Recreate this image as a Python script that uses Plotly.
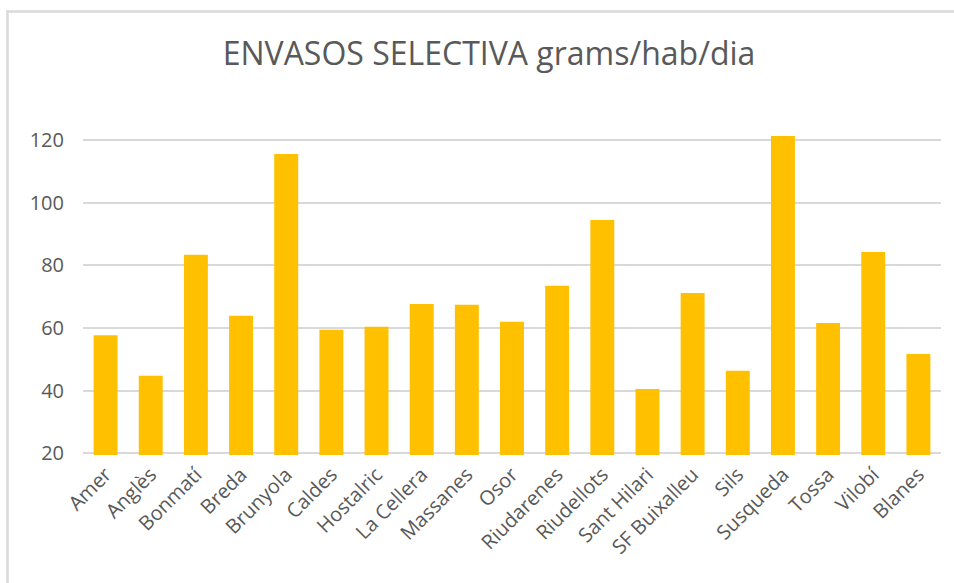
import plotly.graph_objects as go

categories = ["Amer", "Anglès", "Bonmatí", "Breda", "Brunyola", "Caldes", "Hostalric",
              "La Cellera", "Massanes", "Osor", "Riudarenes", "Riudellots", "Sant Hilari",
              "SF Buixalleu", "Sils", "Susqueda", "Tossa", "Vilobí", "Blanes"]
values = [57.7, 44.7, 83.4, 63.9, 115.6, 59.4, 60.4, 67.7, 67.4, 62.0, 73.5, 94.5,
          40.5, 71.2, 46.3, 121.4, 61.6, 84.3, 51.7]
y_ticks = [20, 40, 60, 80, 100, 120]

W, H = 954, 583
L, R, T, B = 83, 13, 109, 128
FONT = "Open Sans"
TXT = "#595959"
GRID = "#D9D9D9"

fig = go.Figure(go.Bar(x=categories, y=values, marker_color="#FFC000",
                       marker_line_width=0))

pw = W - L - R
ph = H - T - B
def px_x(p):
    return (p - L) / pw
def px_y(p):
    return (H - B - p) / ph

fig.update_layout(
    width=W, height=H,
    margin=dict(l=L, r=R, t=T, b=B, pad=0),
    paper_bgcolor="white", plot_bgcolor="white",
    bargap=0.47,
    showlegend=False,
    title=dict(text="ENVASOS SELECTIVA grams/hab/dia", x=(489) / W, xanchor="center",
               y=1 - 54 / H, yanchor="middle", yref="container",
               font=dict(family=FONT, size=32, color=TXT)),
    xaxis=dict(tickangle=-45, tickfont=dict(family=FONT, size=20, color=TXT),
               showgrid=False, showline=False, ticks="", automargin=False,
               ticklabelstandoff=3),
    yaxis=dict(range=[19.4, 130], tickvals=y_ticks, showgrid=True, gridcolor=GRID,
               gridwidth=1.5, zeroline=False, showline=False, ticks="",
               ticklabelstandoff=18,
               tickfont=dict(family=FONT, size=20, color=TXT), automargin=False),
    shapes=[
        dict(type="line", xref="paper", yref="paper", x0=px_x(7.5), x1=px_x(7.5),
             y0=px_y(10.5), y1=px_y(H + 5), line=dict(color=GRID, width=2.5)),
        dict(type="line", xref="paper", yref="paper", x0=px_x(6.3), x1=px_x(W + 5),
             y0=px_y(11.5), y1=px_y(11.5), line=dict(color=GRID, width=2.5)),
    ],
)

fig.write_html("out.html", config={"displayModeBar": False},
               post_script="document.body.style.margin='0';document.body.style.overflow='hidden';")
